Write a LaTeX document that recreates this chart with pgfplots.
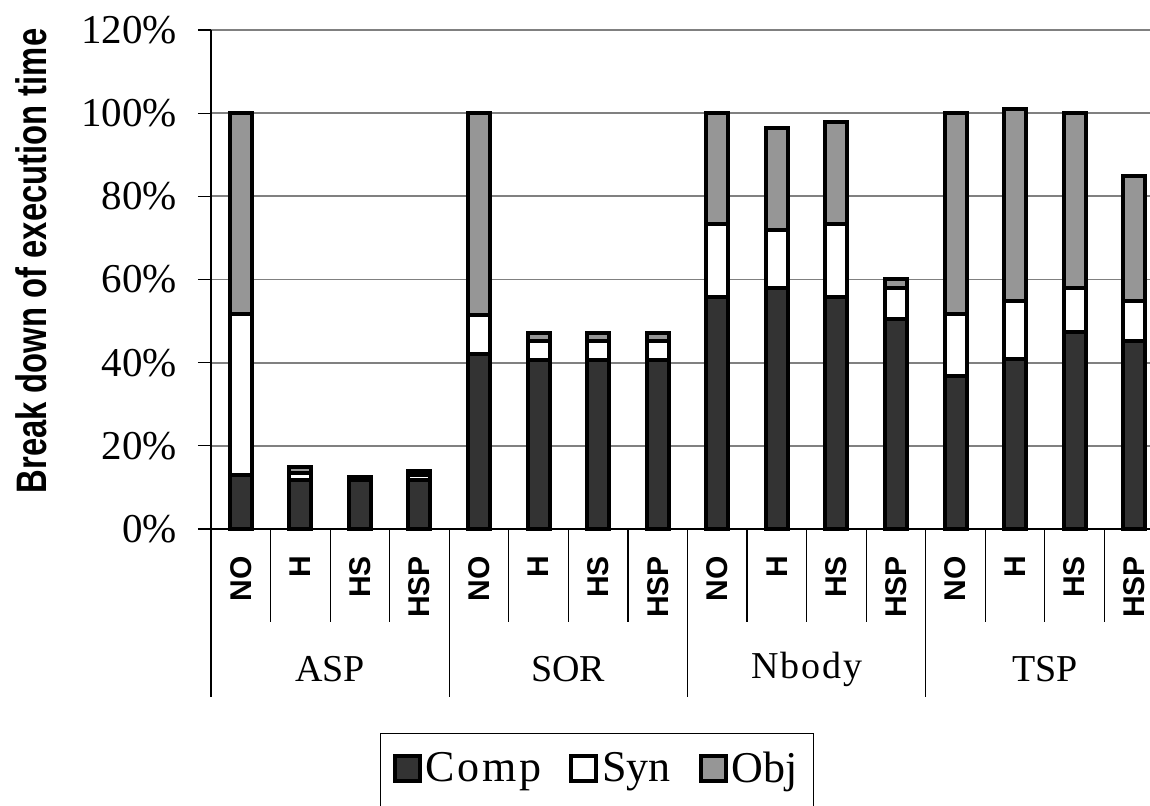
\documentclass[border=0pt]{standalone}
\usepackage{pgfplots}
\usepackage{pgfplotstable}
\pgfplotsset{compat=1.18}
\usepackage{fontspec}
\setmainfont{Liberation Serif}
\newfontfamily\arialfont{Liberation Sans}
\definecolor{compc}{HTML}{333333}
\definecolor{objc}{HTML}{969696}
\definecolor{gridc}{HTML}{808080}

\pgfplotstableread{
x comp syn obj
0  13.0 38.6 48.4
1  11.7 1.8 1.4
2  11.7 0.5 0.3
3  11.7 1.2 1.1
4  42.0 9.4 48.6
5  40.7 4.4 2.1
6  40.7 4.4 2.1
7  40.7 4.4 2.1
8  55.9 17.5 26.6
9  58.0 14.0 24.5
10 55.9 17.5 24.4
11 50.6 7.4 2.1
12 36.7 14.9 48.4
13 40.9 13.9 46.2
14 47.3 10.7 42.0
15 45.1 9.7 30.1
}\data

\tikzset{cat/.style={rotate=90, anchor=center, inner sep=0pt, font=\arialfont\bfseries\fontsize{15}{15}\selectfont}}
\newcommand{\catlab}[1]{\makebox[50pt][r]{#1}}

\begin{document}
\begin{tikzpicture}
\begin{axis}[
  at={(0,0)}, anchor=south west,
  scale only axis, width=476.5pt, height=249.5pt,
  xmin=-0.5, xmax=15.5, ymin=0, ymax=120,
  ybar stacked, bar width=11pt,
  axis x line*=bottom, axis y line*=left,
  axis line style={black, line width=0.75pt, -},
  ytick={0,20,...,120},
  yticklabel={\pgfmathprintnumber{\tick}\%},
  /pgf/number format/assume math mode=true,
  ymajorgrids, grid style={gridc, line width=0.9pt},
  tick align=outside, major tick length=6.5pt,
  y tick style={black, line width=0.6pt},
  xtick=\empty,
  y tick label style={xshift=-7pt, font=\fontsize{20.5}{21}\selectfont},
  ylabel={\scalebox{1}[1.3]{\bfseries Break down of execution time}},
  ylabel style={font=\arialfont\fontsize{16.4}{17}\selectfont, at={(axis description cs:-0.189,0.537)}, anchor=center},
  clip=false,
  every axis plot/.append style={draw=black, line width=2pt},
  legend columns=3,
  legend image code/.code={\draw[#1, line width=2pt] (0pt,0pt) rectangle (12.5pt,12.5pt);},
  legend style={at={(axis description cs:0.1773,-0.4088)}, anchor=north west,
    draw=black, line width=0.6pt, inner xsep=6pt, inner ysep=7pt,
    font=\fontsize{22}{22}\selectfont,
    nodes={text depth=14pt},
    /tikz/every even column/.append style={column sep=12pt}},
]
\addplot[fill=compc] table[x=x,y=comp]{\data};
\addplot[fill=white] table[x=x,y=syn]{\data};
\addplot[fill=objc] table[x=x,y=obj]{\data};
\legend{{\addfontfeatures{LetterSpace=6}Comp},Syn,{Obj\hspace{8pt}}}
\pgfplotsinvokeforeach{0.5,1.5,2.5,4.5,5.5,6.5,8.5,9.5,10.5,12.5,13.5,14.5}{
  \draw[black, line width=0.6pt] (axis cs:#1,0) -- ++(0pt,-46.5pt);
}
\pgfplotsinvokeforeach{-0.5,3.5,7.5,11.5}{
  \draw[black, line width=0.6pt] (axis cs:#1,0) -- ++(0pt,-84pt);
}
\pgfplotsinvokeforeach{0,4,8,12}{
  \node[cat] at ([yshift=-38.5pt]axis cs:#1,0) {\catlab{NO}};
}
\pgfplotsinvokeforeach{1,5,9,13}{
  \node[cat] at ([yshift=-38.5pt]axis cs:#1,0) {\catlab{H}};
}
\pgfplotsinvokeforeach{2,6,10,14}{
  \node[cat] at ([yshift=-38.5pt]axis cs:#1,0) {\catlab{HS}};
}
\pgfplotsinvokeforeach{3,7,11,15}{
  \node[cat] at ([yshift=-38.5pt]axis cs:#1,0) {\catlab{HSP}};
}
\node[font=\fontsize{19}{19}\selectfont] at ([yshift=-70pt]axis cs:1.5,0) {ASP};
\node[font=\fontsize{19}{19}\selectfont] at ([yshift=-70pt]axis cs:5.5,0) {SOR};
\node[font=\fontsize{19}{19}\selectfont\addfontfeatures{LetterSpace=5}] at ([yshift=-70pt]axis cs:9.5,0) {Nbody};
\node[font=\fontsize{19}{19}\selectfont] at ([yshift=-70pt]axis cs:13.5,0) {TSP};
\end{axis}
\pgfresetboundingbox
\path[use as bounding box] (-105.5pt,-138.5pt) rectangle (469.5pt,264.5pt);
\end{tikzpicture}
\end{document}
